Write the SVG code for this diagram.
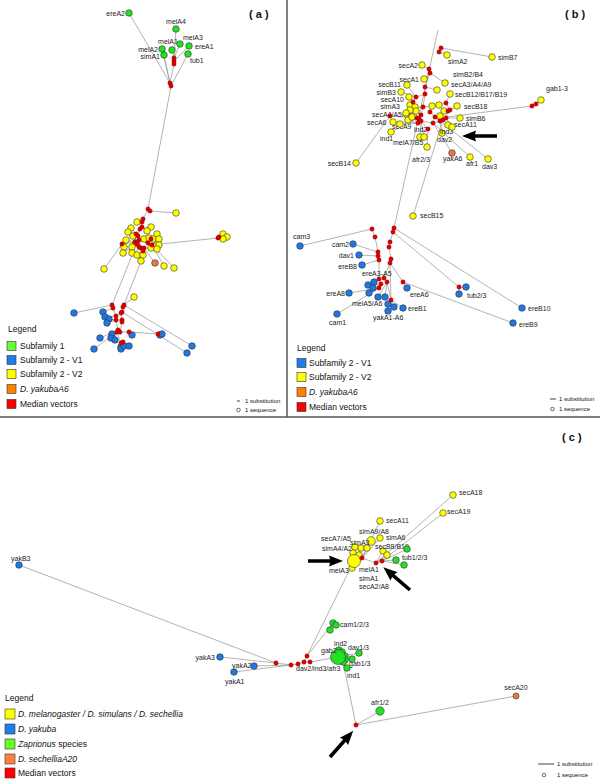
<svg xmlns="http://www.w3.org/2000/svg" width="600" height="783" viewBox="0 0 600 783">
<style>
text{font-family:"Liberation Sans",Arial,sans-serif;fill:#222}
.l{font-size:7px}
.lg{font-size:8.5px;fill:#111}
.sc{font-size:6px;fill:#111}
.hd{font-size:11px;font-weight:bold;fill:#111}
.e{fill:none;stroke:#a0a0a0;stroke-width:0.8}
.g{fill:#22e022;stroke:#333;stroke-width:0.6}
.b{fill:#1e78e6;stroke:#333;stroke-width:0.6}
.y{fill:#ffff00;stroke:#333;stroke-width:0.6}
.o{fill:#ec7840;stroke:#333;stroke-width:0.6}
.r{fill:#e00000;stroke:#800;stroke-width:0.4}
.div{stroke:#555;stroke-width:1.5}
.ar{fill:#000}
</style>
<defs>
<polygon id="arrow" points="0,-1.8 22,-1.8 21,-5.5 35,0 21,5.5 22,1.8 0,1.8"/>
</defs>
<rect width="600" height="783" fill="#fff"/>
<line class="div" x1="287" y1="0" x2="287" y2="417"/>
<line class="div" x1="0" y1="417" x2="600" y2="417"/>
<text class="hd" x="249" y="18">( a )</text>
<text class="hd" x="565" y="18">( b )</text>
<text class="hd" x="562" y="441">( c )</text>

<g id="connectors">
<path class="e" d="M129,13 L170,83 M176,29 L174,58 M172,50 L174,58 M180,44 L174,58 M189,46 L174,61 M162,49 L170,83 M164,55 L170,83 M188,54 L171,86 M174,58 L174,64 L170,83 L171,86 M171,86 L148,209"/>
<path class="e" d="M148,209 L143,219 L142,222 L140,229 L138,236 L139,240 L141,248 L143,251 M150,211 L176,213 M148,209 L150,211 M142,227 L136,234 L135,242 L137,244 M140,229 L151,227 M143,219 L137,222 M136,234 L131,228 M135,242 L122,244 L104,269 M139,240 L148,243 L151,239 L157,234 M148,243 L152,245 L218,238 M218,238 L219,237 L223,234 M219,237 L227,237 M218,238 L223,239 M152,245 L164,266 M152,245 L174,268 M144,248 L155,263 M141,248 L144,248 M136,234 L128,232 M138,236 L133,236 M139,240 L144,239 M148,243 L149,238 M151,239 L153,239 M152,245 L159,239 M135,242 L126,240 M137,244 L136,243 M137,244 L132,247 M122,244 L124,247 M152,245 L156,246 M152,245 L159,245 M144,248 L151,248 M152,245 L157,249 M137,244 L123,253 M141,248 L132,253 M143,251 L137,255 M143,251 L143,255 M143,251 L141,261 M142,227 L147,231 M133,253 L112,305 M141,261 L124,305"/>
<path class="e" d="M112,305 L113,308 L116,316 L116,320 L118,330 L117,332 L121,343 L123,342 M124,305 L123,307 L122,312 L121,313 L122,320 L122,322 L120,332 L129,332 M112,305 L74,313 M113,308 L103,312 M116,316 L105,317 M116,320 L109,319 M116,320 L107,323 M124,305 L192,346 M122,312 L187,353 M129,332 L158,334 L160,335 M158,334 L162,334 M129,332 L132,335 M118,330 L100,338 M117,332 L94,349 M117,332 L112,334 M117,332 L111,338 M117,332 L115,340 M121,343 L121,347 M121,343 L121,349 M123,342 L124,346 M123,342 L129,346 M124,305 L134,297 M116,320 L122,320 M120,332 L118,330"/>
<path class="e" d="M438,30 L394,228 M441,48 L492,57 M441,48 L439,52 L447,55 M443,120 L413,216 M390,116 L356,163 M447,117 L532,106 L536,104 L541,100 M429,69 L422,65 M430,73 L424,79 M430,73 L445,83 M425,87 L437,90 M425,94 L416,97 L407,85 M416,97 L401,92 M413,102 L409,97 M413,102 L410,105 M446,103 L450,94 M448,111 L457,106 M446,118 L460,118 M443,120 L448,125 M440,121 L442,133 M433,123 L452,153 M433,123 L470,157 M435,117 L488,159 M428,129 L427,147 M421,121 L420,137 M421,121 L424,137 M417,118 L391,132 M418,123 L393,122 M417,118 L390,116 M429,69 L430,73 L425,87 L425,94 L423,107 L421,115 L419,119 L421,121 L433,123 L440,121 L443,120 L446,118 L448,111 L450,110 L446,103 M416,97 L413,102 L417,118 L418,123 M430,112 L435,117 L440,121 M421,121 L428,129 M423,107 L415,107 M421,115 L416,111 M423,107 L432,106 L439,105 M448,111 L444,111 M440,121 L440,116 M417,118 L410,110 M417,118 L406,113 M418,123 L408,120 M418,123 L412,117 M418,123 L400,124 M446,118 L452,127 M446,103 L439,105"/>
<path class="e" d="M394,228 L393,232 L390,242 L389,247 L391,259 L390,263 L384,278 M394,228 L522,308 M393,232 L459,287 L466,287 M459,287 L459,294 M390,263 L403,282 L407,288 M403,282 L513,323 M390,263 L391,300 M300,246 L372,229 L375,237 L378,252 L378,256 L379,260 L379,279 M353,244 L378,252 M359,255 L378,256 M362,265 L379,260 M379,279 L374,282 M381,284 L368,285 M381,284 L373,288 M379,288 L369,293 M379,288 L349,293 M379,288 L337,314 M387,282 L378,297 M387,282 L385,297 M387,282 L391,300 L388,304 M391,300 L394,307 M391,300 L388,311 M391,300 L403,308 M384,278 L387,282 M379,279 L381,284 L379,288"/>
<path class="e" d="M19,565 L276,663 M220,657 L276,663 M254,666 L291,665 M234,672 L291,665 M276,663 L291,665 L298,664 L304,662 L310,662 M304,662 L307,656 M307,656 L333,623 M307,656 L354,561 M310,662 L338,657 M343,662 L356,725 M356,725 L380,711 M356,725 L516,696 M354,561 L362,558 L376,563 L382,561 M376,563 L453,495 M382,561 L443,513 M362,558 L380,521 M362,558 L380,538 M382,561 L396,560 M382,561 L404,565 M382,561 L407,549 M362,558 L371,541 M354,561 L355,547 M354,561 L361,548 M362,558 L367,548 M354,561 L353,553 M362,558 L359,555 M376,563 L383,551 M376,563 L387,555 M354,561 L352,568 M338,657 L339,650 M338,657 L342,652 M338,657 L345,656 M338,657 L345,660 M338,657 L343,662 M338,657 L352,659 M338,657 L359,653 M338,657 L347,668 M333,623 L336,625 M333,623 L330,630"/>
</g>

<g id="a-ereA2"><circle class="g" cx="129" cy="13" r="3.3"/><text class="l" x="125" y="15.5" text-anchor="end">ereA2</text></g>
<g id="a-melA4"><circle class="g" cx="176" cy="29" r="3.3"/><text class="l" x="176" y="24" text-anchor="middle">melA4</text></g>
<g id="a-melA1"><circle class="g" cx="172" cy="50" r="3.3"/><text class="l" x="168" y="44" text-anchor="middle">melA1</text></g>
<g id="a-melA3"><circle class="g" cx="180" cy="44" r="3.3"/><text class="l" x="183" y="39.5">melA3</text></g>
<g id="a-ereA1"><circle class="g" cx="189" cy="46" r="3.3"/><text class="l" x="195" y="48.5">ereA1</text></g>
<g id="a-melA2"><circle class="g" cx="162" cy="49" r="3.3"/><text class="l" x="158" y="51.5" text-anchor="end">melA2</text></g>
<g id="a-simA1"><circle class="g" cx="164" cy="55" r="3.3"/><text class="l" x="160" y="59" text-anchor="end">simA1</text></g>
<g id="a-tub1"><circle class="g" cx="188" cy="54" r="3.3"/><text class="l" x="190" y="63">tub1</text></g>
<g id="a-mv-top"><circle class="r" cx="174" cy="58" r="2.2"/><circle class="r" cx="174" cy="61" r="2.2"/><circle class="r" cx="174" cy="64" r="2.2"/><circle class="r" cx="170" cy="83" r="2.2"/><circle class="r" cx="171" cy="86" r="2.2"/></g>
<g id="a-v2-cluster">
<circle class="y" cx="176" cy="213" r="3.3"/><circle class="y" cx="137" cy="222" r="3.3"/><circle class="y" cx="131" cy="228" r="3.3"/><circle class="y" cx="151" cy="227" r="3.3"/><circle class="y" cx="128" cy="232" r="3.3"/><circle class="y" cx="147" cy="231" r="3.3"/><circle class="y" cx="157" cy="234" r="3.3"/><circle class="y" cx="133" cy="236" r="3.3"/><circle class="y" cx="144" cy="239" r="3.3"/><circle class="y" cx="149" cy="238" r="3.3"/><circle class="y" cx="153" cy="239" r="3.3"/><circle class="y" cx="159" cy="239" r="3.3"/><circle class="y" cx="126" cy="240" r="3.3"/><circle class="y" cx="136" cy="243" r="3.3"/><circle class="y" cx="132" cy="247" r="3.3"/><circle class="y" cx="124" cy="247" r="3.3"/><circle class="y" cx="156" cy="246" r="3.3"/><circle class="y" cx="159" cy="245" r="3.3"/><circle class="y" cx="151" cy="248" r="3.3"/><circle class="y" cx="157" cy="249" r="3.3"/><circle class="y" cx="123" cy="253" r="3.3"/><circle class="y" cx="132" cy="253" r="3.3"/><circle class="y" cx="137" cy="255" r="3.3"/><circle class="y" cx="143" cy="255" r="3.3"/><circle class="y" cx="141" cy="261" r="3.3"/><circle class="y" cx="104" cy="269" r="3.3"/><circle class="y" cx="164" cy="266" r="3.3"/><circle class="y" cx="174" cy="268" r="3.3"/><circle class="y" cx="223" cy="234" r="3.3"/><circle class="y" cx="227" cy="237" r="3.3"/><circle class="y" cx="223" cy="239" r="3.3"/><circle class="y" cx="134" cy="297" r="3.3"/>
<circle class="o" cx="155" cy="263" r="3.3"/>
</g>
<g id="a-mv-mid">
<circle class="r" cx="148" cy="209" r="2.2"/><circle class="r" cx="150" cy="211" r="2.2"/><circle class="r" cx="143" cy="219" r="2.2"/><circle class="r" cx="142" cy="222" r="2.2"/><circle class="r" cx="140" cy="229" r="2.2"/><circle class="r" cx="142" cy="227" r="2.2"/><circle class="r" cx="136" cy="234" r="2.2"/><circle class="r" cx="138" cy="236" r="2.2"/><circle class="r" cx="135" cy="242" r="2.2"/><circle class="r" cx="139" cy="240" r="2.2"/><circle class="r" cx="137" cy="244" r="2.2"/><circle class="r" cx="148" cy="243" r="2.2"/><circle class="r" cx="151" cy="239" r="2.2"/><circle class="r" cx="152" cy="245" r="2.2"/><circle class="r" cx="141" cy="248" r="2.2"/><circle class="r" cx="144" cy="248" r="2.2"/><circle class="r" cx="143" cy="251" r="2.2"/><circle class="r" cx="139" cy="247" r="2.2"/><circle class="r" cx="122" cy="244" r="2.2"/><circle class="r" cx="218" cy="238" r="2.2"/><circle class="r" cx="219" cy="237" r="2.2"/>
</g>
<g id="a-v1-cluster">
<circle class="b" cx="74" cy="313" r="3.3"/><circle class="b" cx="103" cy="312" r="3.3"/><circle class="b" cx="105" cy="317" r="3.3"/><circle class="b" cx="109" cy="319" r="3.3"/><circle class="b" cx="107" cy="323" r="3.3"/><circle class="b" cx="100" cy="338" r="3.3"/><circle class="b" cx="112" cy="334" r="3.3"/><circle class="b" cx="111" cy="338" r="3.3"/><circle class="b" cx="115" cy="340" r="3.3"/><circle class="b" cx="132" cy="335" r="3.3"/><circle class="b" cx="94" cy="349" r="3.3"/><circle class="b" cx="121" cy="347" r="3.3"/><circle class="b" cx="121" cy="349" r="3.3"/><circle class="b" cx="124" cy="346" r="3.3"/><circle class="b" cx="129" cy="346" r="3.3"/><circle class="b" cx="160" cy="335" r="3.3"/><circle class="b" cx="162" cy="334" r="3.3"/><circle class="b" cx="192" cy="346" r="3.3"/><circle class="b" cx="187" cy="353" r="3.3"/>
</g>
<g id="a-mv-bottom">
<circle class="r" cx="112" cy="305" r="2.2"/><circle class="r" cx="113" cy="308" r="2.2"/><circle class="r" cx="124" cy="305" r="2.2"/><circle class="r" cx="123" cy="307" r="2.2"/><circle class="r" cx="122" cy="312" r="2.2"/><circle class="r" cx="121" cy="313" r="2.2"/><circle class="r" cx="116" cy="316" r="2.2"/><circle class="r" cx="116" cy="320" r="2.2"/><circle class="r" cx="122" cy="320" r="2.2"/><circle class="r" cx="122" cy="322" r="2.2"/><circle class="r" cx="118" cy="330" r="2.2"/><circle class="r" cx="117" cy="332" r="2.2"/><circle class="r" cx="120" cy="332" r="2.2"/><circle class="r" cx="129" cy="332" r="2.2"/><circle class="r" cx="123" cy="342" r="2.2"/><circle class="r" cx="121" cy="343" r="2.2"/><circle class="r" cx="158" cy="334" r="2.2"/>
</g>
<g id="a-legend">
<text class="lg" x="8" y="332">Legend</text>
<rect x="7" y="341.5" width="9" height="9" fill="#66ff33" stroke="#333" stroke-width="0.6"/><text class="lg" x="20" y="349">Subfamily 1</text>
<rect x="7" y="355.5" width="9" height="9" fill="#1e7fe8" stroke="#333" stroke-width="0.6"/><text class="lg" x="20" y="363">Subfamily 2 - V1</text>
<rect x="7" y="369.5" width="9" height="9" fill="#ffff00" stroke="#333" stroke-width="0.6"/><text class="lg" x="20" y="377">Subfamily 2 - V2</text>
<rect x="7" y="384.5" width="9" height="9" fill="#ff8000" stroke="#333" stroke-width="0.6"/><text class="lg" x="20" y="392" font-style="italic">D. yakubaA6</text>
<rect x="7" y="399.5" width="9" height="9" fill="#ff0000" stroke="#333" stroke-width="0.6"/><text class="lg" x="20" y="407">Median vectors</text>
</g>
<g id="a-scale">
<line x1="237" y1="401" x2="240" y2="401" stroke="#111" stroke-width="0.8"/><text class="sc" x="245" y="403">1 substitution</text>
<circle cx="238.5" cy="410" r="1.8" fill="none" stroke="#111" stroke-width="0.6"/><text class="sc" x="245" y="412">1 sequence</text>
</g>

<g id="b-simA2"><circle class="y" cx="447" cy="55" r="3.3"/><text class="l" x="448" y="64">simA2</text></g>
<g id="b-simB7"><circle class="y" cx="492" cy="57" r="3.3"/><text class="l" x="498" y="60">simB7</text></g>
<g id="b-secA2"><circle class="y" cx="422" cy="65" r="3.3"/><text class="l" x="418" y="67.5" text-anchor="end">secA2</text></g>
<g id="b-secA1"><circle class="y" cx="424" cy="79" r="3.3"/><text class="l" x="419" y="81.5" text-anchor="end">secA1</text></g>
<g id="b-simB2B4"><text class="l" x="453" y="77">simB2/B4</text></g>
<g id="b-secA3A4A9"><circle class="y" cx="445" cy="83" r="3.3"/><text class="l" x="451" y="86.5">secA3/A4/A9</text></g>
<g id="b-secB11"><circle class="y" cx="407" cy="85" r="3.3"/><text class="l" x="401" y="87" text-anchor="end">secB11</text></g>
<g id="b-simB3"><circle class="y" cx="401" cy="92" r="3.3"/><text class="l" x="396" y="94.5" text-anchor="end">simB3</text></g>
<g id="b-secA10"><circle class="y" cx="409" cy="97" r="3.3"/><text class="l" x="404" y="101.5" text-anchor="end">secA10</text></g>
<g id="b-secB12"><circle class="y" cx="450" cy="94" r="3.3"/><text class="l" x="455" y="96.5">secB12/B17/B19</text></g>
<g id="b-secB18"><circle class="y" cx="457" cy="106" r="3.3"/><text class="l" x="464" y="108.5">secB18</text></g>
<g id="b-simA3"><circle class="y" cx="410" cy="105" r="3.3"/><text class="l" x="400" y="109" text-anchor="end">simA3</text></g>
<g id="b-secA4A5A6"><text class="l" x="372" y="116.5">secA4/A5/A6</text></g>
<g id="b-secA6"><circle class="y" cx="393" cy="122" r="3.3"/><text class="l" x="367" y="124.5">secA6</text></g>
<g id="b-secA9"><text class="l" x="392" y="129">secA9</text></g>
<g id="b-ind2"><text class="l" x="414" y="131.5">ind2</text></g>
<g id="b-ind1"><circle class="y" cx="391" cy="132" r="3.3"/><text class="l" x="380" y="141">ind1</text></g>
<g id="b-melA7B5"><circle class="y" cx="420" cy="137" r="3.3"/><circle class="y" cx="424" cy="137" r="3.3"/><text class="l" x="393" y="145">melA7/B5</text></g>
<g id="b-afr23"><circle class="y" cx="427" cy="147" r="3.3"/><text class="l" x="412" y="161.5">afr2/3</text></g>
<g id="b-yakA6"><circle class="o" cx="452" cy="153" r="3.3"/><text class="l" x="443" y="160.5">yakA6</text></g>
<g id="b-afr1"><circle class="y" cx="470" cy="157" r="3.3"/><text class="l" x="466" y="165.5">afr1</text></g>
<g id="b-dav3"><circle class="y" cx="488" cy="159" r="3.3"/><text class="l" x="482" y="168.5">dav3</text></g>
<g id="b-dav2"><circle class="y" cx="442" cy="133" r="3.3"/><text class="l" x="437" y="141.5">dav2</text></g>
<g id="b-ind3"><text class="l" x="440" y="133.5">ind3</text></g>
<g id="b-secA11"><circle class="y" cx="448" cy="125" r="3.3"/><text class="l" x="454" y="127">secA11</text></g>
<g id="b-simB6"><circle class="y" cx="460" cy="118" r="3.3"/><text class="l" x="466" y="120.5">simB6</text></g>
<g id="b-secB14"><circle class="y" cx="356" cy="163" r="3.3"/><text class="l" x="351" y="165.5" text-anchor="end">secB14</text></g>
<g id="b-gab1-3"><circle class="r" cx="532" cy="106" r="2.2"/><circle class="r" cx="536" cy="104" r="2.2"/><circle class="y" cx="541" cy="100" r="3.3"/><text class="l" x="546" y="90.5">gab1-3</text></g>
<g id="b-secB15"><circle class="y" cx="413" cy="216" r="3.3"/><text class="l" x="420" y="218">secB15</text></g>
<g id="b-v2-cluster">
<circle class="y" cx="437" cy="90" r="3.3"/><circle class="y" cx="415" cy="107" r="3.3"/><circle class="y" cx="416" cy="111" r="3.3"/><circle class="y" cx="432" cy="106" r="3.3"/><circle class="y" cx="439" cy="105" r="3.3"/><circle class="y" cx="444" cy="111" r="3.3"/><circle class="y" cx="440" cy="116" r="3.3"/><circle class="y" cx="410" cy="110" r="3.3"/><circle class="y" cx="406" cy="113" r="3.3"/><circle class="y" cx="408" cy="120" r="3.3"/><circle class="y" cx="412" cy="117" r="3.3"/><circle class="y" cx="400" cy="124" r="3.3"/><circle class="y" cx="452" cy="127" r="3.3"/>
</g>
<g id="b-mv-top">
<circle class="r" cx="441" cy="48" r="2.2"/><circle class="r" cx="439" cy="52" r="2.2"/><circle class="r" cx="429" cy="69" r="2.2"/><circle class="r" cx="430" cy="73" r="2.2"/><circle class="r" cx="425" cy="87" r="2.2"/><circle class="r" cx="425" cy="94" r="2.2"/><circle class="r" cx="416" cy="97" r="2.2"/><circle class="r" cx="413" cy="102" r="2.2"/><circle class="r" cx="423" cy="107" r="2.2"/><circle class="r" cx="430" cy="112" r="2.2"/><circle class="r" cx="421" cy="115" r="2.2"/><circle class="r" cx="417" cy="118" r="2.2"/><circle class="r" cx="419" cy="119" r="2.2"/><circle class="r" cx="421" cy="121" r="2.2"/><circle class="r" cx="418" cy="123" r="2.2"/><circle class="r" cx="433" cy="123" r="2.2"/><circle class="r" cx="440" cy="121" r="2.2"/><circle class="r" cx="443" cy="120" r="2.2"/><circle class="r" cx="446" cy="118" r="2.2"/><circle class="r" cx="448" cy="111" r="2.2"/><circle class="r" cx="450" cy="110" r="2.2"/><circle class="r" cx="446" cy="103" r="2.2"/><circle class="r" cx="390" cy="116" r="2.2"/><circle class="r" cx="428" cy="129" r="2.2"/><circle class="r" cx="435" cy="117" r="2.2"/>
</g>
<g id="b-cam3"><circle class="b" cx="300" cy="246" r="3.3"/><text class="l" x="293" y="239">cam3</text></g>
<g id="b-cam2"><circle class="b" cx="353" cy="244" r="3.3"/><text class="l" x="349" y="246.5" text-anchor="end">cam2</text></g>
<g id="b-dav1"><circle class="b" cx="359" cy="255" r="3.3"/><text class="l" x="354" y="257.5" text-anchor="end">dav1</text></g>
<g id="b-ereB8"><circle class="b" cx="362" cy="265" r="3.3"/><text class="l" x="357" y="269" text-anchor="end">ereB8</text></g>
<g id="b-ereA3A5"><text class="l" x="362" y="275.5">ereA3-A5</text></g>
<g id="b-ereA8"><circle class="b" cx="349" cy="293" r="3.3"/><text class="l" x="345" y="296" text-anchor="end">ereA8</text></g>
<g id="b-ereA6"><circle class="b" cx="407" cy="288" r="3.3"/><text class="l" x="410" y="296.5">ereA6</text></g>
<g id="b-tub23"><circle class="r" cx="459" cy="287" r="2.2"/><circle class="b" cx="466" cy="287" r="3.3"/><circle class="b" cx="459" cy="294" r="3.3"/><text class="l" x="467" y="297.5">tub2/3</text></g>
<g id="b-melA5A6"><circle class="b" cx="369" cy="293" r="3.3"/><circle class="b" cx="378" cy="297" r="3.3"/><circle class="b" cx="385" cy="297" r="3.3"/><text class="l" x="352" y="305.5">melA5/A6</text></g>
<g id="b-ereB1"><circle class="b" cx="403" cy="308" r="3.3"/><text class="l" x="408" y="310.5">ereB1</text></g>
<g id="b-yakA1A6"><circle class="b" cx="388" cy="304" r="3.3"/><circle class="b" cx="394" cy="307" r="3.3"/><circle class="b" cx="388" cy="311" r="3.3"/><text class="l" x="373" y="319.5">yakA1-A6</text></g>
<g id="b-cam1"><circle class="b" cx="337" cy="314" r="3.3"/><text class="l" x="329" y="324.5">cam1</text></g>
<g id="b-ereB10"><circle class="b" cx="522" cy="308" r="3.3"/><text class="l" x="528" y="310.5">ereB10</text></g>
<g id="b-ereB9"><circle class="b" cx="513" cy="323" r="3.3"/><text class="l" x="519" y="326.5">ereB9</text></g>
<g id="b-v1-cluster"><circle class="b" cx="374" cy="282" r="3.3"/><circle class="b" cx="368" cy="285" r="3.3"/><circle class="b" cx="373" cy="288" r="3.3"/></g>
<g id="b-mv-bottom">
<circle class="r" cx="394" cy="228" r="2.2"/><circle class="r" cx="393" cy="232" r="2.2"/><circle class="r" cx="390" cy="242" r="2.2"/><circle class="r" cx="389" cy="247" r="2.2"/><circle class="r" cx="391" cy="259" r="2.2"/><circle class="r" cx="390" cy="263" r="2.2"/><circle class="r" cx="403" cy="282" r="2.2"/><circle class="r" cx="372" cy="229" r="2.2"/><circle class="r" cx="375" cy="237" r="2.2"/><circle class="r" cx="378" cy="252" r="2.2"/><circle class="r" cx="378" cy="256" r="2.2"/><circle class="r" cx="379" cy="260" r="2.2"/><circle class="r" cx="379" cy="279" r="2.2"/><circle class="r" cx="384" cy="278" r="2.2"/><circle class="r" cx="387" cy="282" r="2.2"/><circle class="r" cx="381" cy="284" r="2.2"/><circle class="r" cx="379" cy="288" r="2.2"/><circle class="r" cx="391" cy="300" r="2.2"/>
</g>
<use href="#arrow" class="ar" transform="translate(497,136) rotate(180)"/>
<g id="b-legend">
<text class="lg" x="297" y="351">Legend</text>
<rect x="297" y="358.5" width="9" height="9" fill="#1e7fe8" stroke="#333" stroke-width="0.6"/><text class="lg" x="309" y="366">Subfamily 2 - V1</text>
<rect x="297" y="372.5" width="9" height="9" fill="#ffff00" stroke="#333" stroke-width="0.6"/><text class="lg" x="309" y="380">Subfamily 2 - V2</text>
<rect x="297" y="387.5" width="9" height="9" fill="#ff8000" stroke="#333" stroke-width="0.6"/><text class="lg" x="309" y="395" font-style="italic">D. yakubaA6</text>
<rect x="297" y="402.5" width="9" height="9" fill="#ff0000" stroke="#333" stroke-width="0.6"/><text class="lg" x="309" y="410">Median vectors</text>
</g>
<g id="b-scale">
<line x1="550" y1="399" x2="556" y2="399" stroke="#111" stroke-width="0.8"/><text class="sc" x="559" y="401">1 substitution</text>
<circle cx="552.5" cy="409" r="1.8" fill="none" stroke="#111" stroke-width="0.6"/><text class="sc" x="559" y="411">1 sequence</text>
</g>

<g id="c-secA18"><circle class="y" cx="453" cy="495" r="3.3"/><text class="l" x="459" y="495">secA18</text></g>
<g id="c-secA19"><circle class="y" cx="443" cy="513" r="3.3"/><text class="l" x="447" y="514">secA19</text></g>
<g id="c-secA11"><circle class="y" cx="380" cy="521" r="3.3"/><text class="l" x="386" y="522.5">secA11</text></g>
<g id="c-simA9A8"><circle class="y" cx="371" cy="541" r="4.3"/><text class="l" x="359" y="534">simA9/A8</text></g>
<g id="c-simA6"><circle class="y" cx="380" cy="538" r="3.3"/><text class="l" x="386" y="539.5">simA6</text></g>
<g id="c-secA7A5"><circle class="y" cx="355" cy="547" r="3.3"/><text class="l" x="321" y="541">secA7/A5</text></g>
<g id="c-simA3"><circle class="y" cx="361" cy="548" r="3.3"/><text class="l" x="350" y="544.5">simA3</text></g>
<g id="c-simA4A2"><circle class="y" cx="353" cy="553" r="3.3"/><text class="l" x="322" y="550.5">simA4/A2</text></g>
<g id="c-secB8B19"><circle class="y" cx="383" cy="551" r="3.3"/><circle class="y" cx="387" cy="555" r="3.3"/><text class="l" x="375" y="548.5">secB8/B19</text></g>
<g id="c-v-cluster"><circle class="y" cx="367" cy="548" r="3.3"/><circle class="y" cx="359" cy="555" r="3.3"/></g>
<g id="c-melA3"><circle class="y" cx="352" cy="568" r="3.3"/><text class="l" x="329" y="572.5">melA3</text></g>
<g id="c-big-v"><circle class="y" cx="354" cy="561" r="6.5"/><text class="l" x="359" y="571.5">melA1</text><text class="l" x="359" y="580.5">simA1</text><text class="l" x="359" y="589">secA2/A8</text></g>
<g id="c-tub123"><circle class="g" cx="407" cy="549" r="3.3"/><circle class="g" cx="396" cy="560" r="3.3"/><circle class="g" cx="404" cy="565" r="3.3"/><text class="l" x="402" y="559.5">tub1/2/3</text></g>
<g id="c-mv-top"><circle class="r" cx="362" cy="558" r="2.2"/><circle class="r" cx="376" cy="563" r="2.2"/><circle class="r" cx="382" cy="561" r="2.2"/></g>
<g id="c-cam123"><circle class="g" cx="333" cy="623" r="3.3"/><circle class="g" cx="336" cy="625" r="3.3"/><circle class="g" cx="330" cy="630" r="3.3"/><text class="l" x="340" y="626.5">cam1/2/3</text></g>
<g id="c-yakB3"><circle class="b" cx="19" cy="565" r="3.3"/><text class="l" x="11" y="560.5">yakB3</text></g>
<g id="c-yakA3"><circle class="b" cx="220" cy="657" r="3.3"/><text class="l" x="215" y="659.5" text-anchor="end">yakA3</text></g>
<g id="c-yakA2"><circle class="b" cx="254" cy="666" r="3.3"/><text class="l" x="232" y="667.5">yakA2</text></g>
<g id="c-yakA1"><circle class="b" cx="234" cy="672" r="3.3"/><text class="l" x="225" y="683.5">yakA1</text></g>
<g id="c-mv-mid"><circle class="r" cx="276" cy="663" r="2.2"/><circle class="r" cx="291" cy="665" r="2.2"/><circle class="r" cx="298" cy="664" r="2.2"/><circle class="r" cx="304" cy="662" r="2.2"/><circle class="r" cx="310" cy="662" r="2.2"/><circle class="r" cx="307" cy="656" r="2.2"/><text class="l" x="296" y="671">dav2/ind3/afr3</text></g>
<g id="c-zap-cluster">
<circle class="g" cx="339" cy="650" r="3.3"/><circle class="g" cx="342" cy="652" r="3.3"/><circle class="g" cx="345" cy="656" r="3.3"/><circle class="g" cx="345" cy="660" r="3.3"/><circle class="g" cx="343" cy="662" r="3.3"/><circle class="g" cx="338" cy="657" r="7.5"/>
<text class="l" x="334" y="645.5">ind2</text><text class="l" x="321" y="652.5">gab2</text>
</g>
<g id="c-dav13"><circle class="g" cx="359" cy="653" r="3.3"/><text class="l" x="348" y="649.5">dav1/3</text></g>
<g id="c-gab13"><circle class="g" cx="352" cy="659" r="3.3"/><text class="l" x="349" y="665.5">gab1/3</text></g>
<g id="c-ind1"><circle class="g" cx="347" cy="668" r="3.3"/><text class="l" x="347" y="677.5">ind1</text></g>
<g id="c-afr12"><circle class="g" cx="380" cy="711" r="4.2"/><text class="l" x="380" y="705" text-anchor="middle">afr1/2</text></g>
<g id="c-secA20"><circle class="o" cx="516" cy="696" r="3"/><text class="l" x="516" y="690" text-anchor="middle">secA20</text></g>
<g id="c-mv-bottom"><circle class="r" cx="356" cy="725" r="2.2"/></g>
<use href="#arrow" class="ar" transform="translate(308,561)"/>
<use href="#arrow" class="ar" transform="translate(410,590) rotate(220.4)"/>
<use href="#arrow" class="ar" transform="translate(330,757) rotate(-48.4)"/>
<g id="c-legend">
<text class="lg" x="5" y="701">Legend</text>
<rect x="5" y="709" width="10" height="10" fill="#ffff00" stroke="#333" stroke-width="0.6"/><text class="lg" x="18" y="717" font-style="italic">D. melanogaster / D. simulans / D. sechellia</text>
<rect x="5" y="724" width="10" height="10" fill="#1e7fe8" stroke="#333" stroke-width="0.6"/><text class="lg" x="18" y="732" font-style="italic">D. yakuba</text>
<rect x="5" y="739" width="10" height="10" fill="#66ff22" stroke="#333" stroke-width="0.6"/><text class="lg" x="18" y="747"><tspan font-style="italic">Zaprionus</tspan> species</text>
<rect x="5" y="754" width="10" height="10" fill="#ff8040" stroke="#333" stroke-width="0.6"/><text class="lg" x="18" y="762" font-style="italic">D. sechelliaA20</text>
<rect x="5" y="768" width="10" height="10" fill="#ff0000" stroke="#333" stroke-width="0.6"/><text class="lg" x="18" y="776">Median vectors</text>
</g>
<g id="c-scale">
<line x1="538" y1="764" x2="554" y2="764" stroke="#111" stroke-width="0.8"/><text class="sc" x="557" y="766">1 substitution</text>
<circle cx="544" cy="775" r="1.8" fill="none" stroke="#111" stroke-width="0.6"/><text class="sc" x="557" y="777">1 sequence</text>
</g>
</svg>
